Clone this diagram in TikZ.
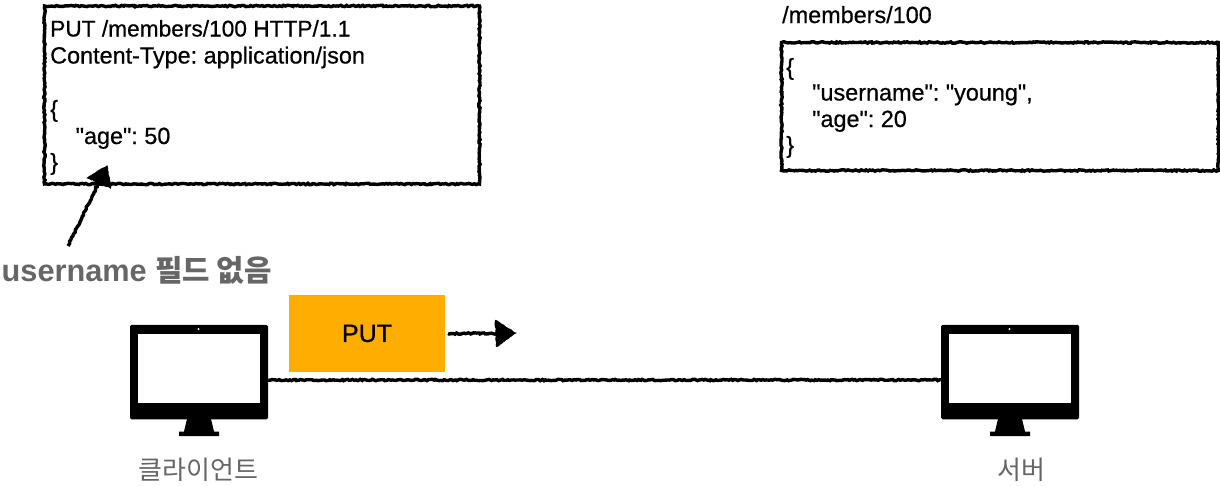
\documentclass[tikz,border=0pt]{standalone}
\usepackage{fontspec}
\setmainfont{Liberation Sans}
\newfontfamily\codefont[FakeBold=0.6]{Liberation Sans}
\newfontfamily\krfont{Noto Sans CJK KR}
\usetikzlibrary{decorations.pathmorphing}
\pgfmathsetseed{7}
\definecolor{labelgray}{HTML}{666666}
\definecolor{putorange}{HTML}{FFAE00}
\tikzset{
  sk/.style={draw=black,line width=3.4pt,decorate,decoration={random steps,segment length=1.8pt,amplitude=0.7pt}},
  boxnode/.style={sk,fill=white,minimum width=#1,inner sep=0pt,rectangle},
  code/.style={anchor=base west,inner sep=0pt,font=\codefont\fontsize{23.4}{24}\selectfont,text=black},
  gray label/.style={anchor=base,inner sep=0pt,text=labelgray},
  monitor/.style={fill=black,rounded corners=1.5pt,minimum width=138pt,minimum height=94.5pt,inner sep=0pt,rectangle},
  screen/.style={fill=white,minimum width=122.5pt,minimum height=69.5pt,inner sep=0pt,rectangle},
  standpart/.style={fill=black,draw=none},
  headtip/.style={fill=black,draw=black,line width=1pt,decorate,decoration={random steps,segment length=2pt,amplitude=0.5pt}}
}
\begin{document}
\frenchspacing
\begin{tikzpicture}[x=1pt,y=-1pt]
\useasboundingbox (0,0) rectangle (1220,485);
% boxes
\node[boxnode=435pt,minimum height=178pt] (req) at (262,95) {};
\node[boxnode=437pt,minimum height=128pt] (res) at (1000,106.5) {};
% texts in the request box
\node[code,font=\codefont\fontsize{22.7}{24}\selectfont] (r1) at (50,36.5) {PUT /members/100 HTTP/1.1};
\node[code] (r2) at (50,63.5) {Content-Type: application/json};
\node[code] (r3) at (50,117) {\{};
\node[code] (r4) at (75.5,144) {"age": 50};
\node[code] (r5) at (50,170) {\}};
% texts in the resource box
\node[code] (s0) at (782,23) {/members/100};
\node[code] (s1) at (786,75) {\{};
\node[code] (s2) at (812,100.5) {"username": "young",};
\node[code] (s3) at (812,127) {"age": 20};
\node[code] (s4) at (786,153) {\}};
% note and its arrow
\node[anchor=base west,inner sep=0pt,text=labelgray,font=\fontsize{30.7}{32}\selectfont] (note) at (1.5,281.5) {\textbf{username} {\krfont\bfseries\fontsize{29.8}{32}\selectfont 필드 없음}};
\coordinate (noteTail) at (68,246);
\coordinate (noteNeck) at (99,182);
\coordinate (noteHead) at (107,166);
\draw[sk] (noteTail) -- (noteNeck);
\draw[headtip] (noteHead) -- (87.5,178) -- (110.5,188) -- cycle;
% PUT message
\node[fill=putorange,minimum width=156pt,minimum height=77pt,inner sep=0pt,rectangle,font=\codefont\fontsize{25}{26}\selectfont] (put) at (367,333.5) {PUT};
\coordinate (putTail) at (448,333.5);
\coordinate (putNeck) at (497,333.5);
\coordinate (putHead) at (515.5,333);
\draw[sk] (putTail) -- (putNeck);
\draw[headtip] (putHead) -- (495.5,320.5) -- (496.5,346.5) -- cycle;
% client
\node[monitor] (cm) at (199,372) {};
\node[screen] (cs) at (199,368.5) {};
\fill[white] (198.5,329) circle (1.2pt);
\fill[standpart] (187,419) -- (211,419) -- (214,431.5) -- (219,431.5) -- (219,436) -- (179,436) -- (179,431.5) -- (184,431.5) -- cycle;
\node[gray label,font=\krfont\fontsize{26}{28}\selectfont] (cl) at (198.5,479.5) {클라이언트};
% server
\node[monitor] (sm) at (1010,372) {};
\node[screen] (ss) at (1010,368.5) {};
\fill[white] (1009.5,329) circle (1.2pt);
\fill[standpart] (998,419) -- (1022,419) -- (1025,431.5) -- (1030,431.5) -- (1030,436) -- (990,436) -- (990,431.5) -- (995,431.5) -- cycle;
\node[gray label,font=\krfont\fontsize{26}{28}\selectfont] (sl) at (1021,479.5) {서버};
% link
\draw[sk] (cm.east |- 0,380) coordinate (linkA) -- (sm.west |- 0,380) coordinate (linkB);
\end{tikzpicture}
\end{document}
